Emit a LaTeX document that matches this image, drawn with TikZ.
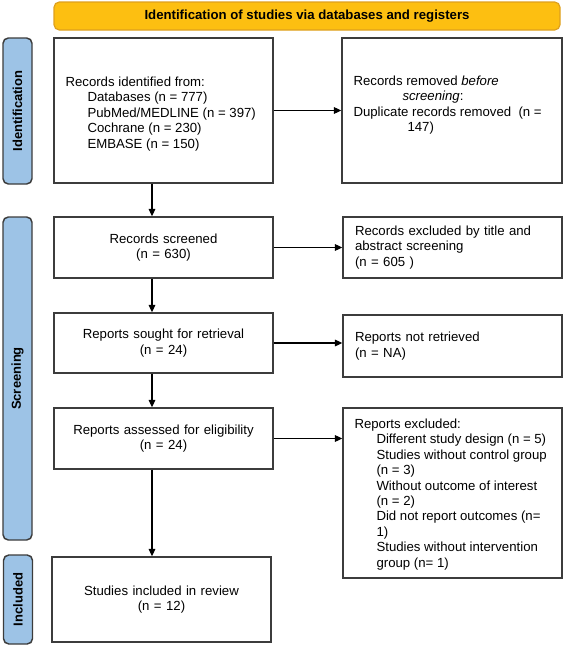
\documentclass[tikz,border=0pt]{standalone}
\usepackage{fontspec}
\setmainfont{Liberation Sans}
\usetikzlibrary{arrows.meta}
\definecolor{bannerfill}{RGB}{253,191,17}
\definecolor{bannerdraw}{RGB}{222,160,30}
\definecolor{barfill}{RGB}{157,195,230}
\definecolor{boxdraw}{RGB}{60,60,60}
\begin{document}
\begin{tikzpicture}[x=0.75pt,y=-0.75pt,
  font=\fontsize{9.9}{11.6}\selectfont,
  flowbox/.style={draw=boxdraw,line width=1.1pt,rectangle,inner xsep=9pt,inner ysep=0pt,
    fill=white,text width=146.25pt},
  leftbox/.style={flowbox,align=left},
  midbox/.style={flowbox,align=center},
  boxtext/.style={align=left,anchor=west,inner sep=0pt},
  phasebar/.style={draw=boxdraw,line width=1.1pt,fill=barfill,rounded corners=4pt,
    rotate=90,font=\fontsize{9.75}{11}\selectfont\bfseries,minimum height=21.75pt,inner sep=0pt},
  banner/.style={draw=bannerdraw,line width=0.9pt,fill=bannerfill,rounded corners=4pt,
    minimum width=379.5pt,minimum height=21pt,font=\fontsize{9.9}{11}\selectfont\bfseries},
  arr/.style={-{Triangle[length=5.5pt,width=5pt]},line width=0.8pt,draw=black}
]
\useasboundingbox (0,0) rectangle (565,646);

% banner
\node[banner] (top) at (307,16) {Identification of studies via databases and registers};

% phase bars
\node[phasebar,minimum width=109.5pt] (idbar) at (17.5,111) {Identification};
\node[phasebar,minimum width=242.25pt] (scrbar) at (17.5,378.5) {Screening};
\node[phasebar,minimum width=66.75pt] (incbar) at (18,599.5) {Included};

% identification row
\node[leftbox,minimum height=108.75pt] (id1) at (163.5,110.5) {};
\node[boxtext] (id1t) at ([xshift=9pt,yshift=-2.6pt]id1.west) {%
Records identified from:\\
\hspace*{16.5pt}Databases (n = 777)\\
\hspace*{16.5pt}PubMed/MEDLINE (n = 397)\\
\hspace*{16.5pt}Cochrane (n = 230)\\
\hspace*{16.5pt}EMBASE (n = 150)};
\node[leftbox,text width=147pt,minimum height=108.75pt] (id2) at (452,110.5) {};
\node[boxtext] (id2t) at ([xshift=9pt,yshift=4.1pt]id2.west) {%
Records removed \textit{before}\\
\hspace*{36.75pt}\textit{screening}:\\
Duplicate records removed\ \ (n =\\
\hspace*{40.5pt}147)};

% screening
\node[midbox,minimum height=45.75pt] (scr1) at (163.5,247.5) {Records screened\\(n = 630)};
\node[leftbox,minimum height=45.75pt] (scr2) at (452.5,247.5) {%
\mbox{Records excluded by title and}\\
abstract screening\\
(n = 605 )};

\node[midbox,minimum height=45pt] (ret1) at (163.5,343) {Reports sought for retrieval\\(n = 24)};
\node[leftbox,minimum height=46.5pt] (ret2) at (452.5,346) {%
Reports not retrieved\\
(n = NA)};

\node[midbox,minimum height=45.75pt] (elig1) at (163.5,438.5) {\mbox{Reports assessed for eligibility}\\(n = 24)};
\node[leftbox,minimum height=127.5pt] (elig2) at (452.5,493) {};
\node[boxtext] (elig2t) at ([xshift=9pt,yshift=-1pt]elig2.west) {%
Reports excluded:\\
\hspace*{16.5pt}Different study design (n = 5)\\
\hspace*{16.5pt}Studies without control group\\
\hspace*{16.5pt}(n = 3)\\
\hspace*{16.5pt}Without outcome of interest\\
\hspace*{16.5pt}(n = 2)\\
\hspace*{16.5pt}Did not report outcomes (n=\\
\hspace*{16.5pt}1)\\
\hspace*{16.5pt}Studies without intervention\\
\hspace*{16.5pt}group (n= 1)};

% included
\node[midbox,minimum height=63.75pt] (inc1) at (161.5,599.5) {Studies included in review\\(n = 12)};

% connectors
\coordinate (ax) at (152,0);
\draw[arr] (ax |- id1.south) -- (ax |- scr1.north);
\draw[arr] (ax |- scr1.south) -- (ax |- ret1.north);
\draw[arr] (ax |- ret1.south) -- (ax |- elig1.north);
\draw[arr] (ax |- elig1.south) -- (ax |- inc1.north);

\draw[arr] (id1.east) -- (id1.east -| id2.west);
\draw[arr] (scr1.east) -- (scr1.east -| scr2.west);
\draw[arr] (ret1.east) -- (ret1.east -| ret2.west);
\draw[arr] (elig1.east) -- (elig1.east -| elig2.west);
\end{tikzpicture}
\end{document}
